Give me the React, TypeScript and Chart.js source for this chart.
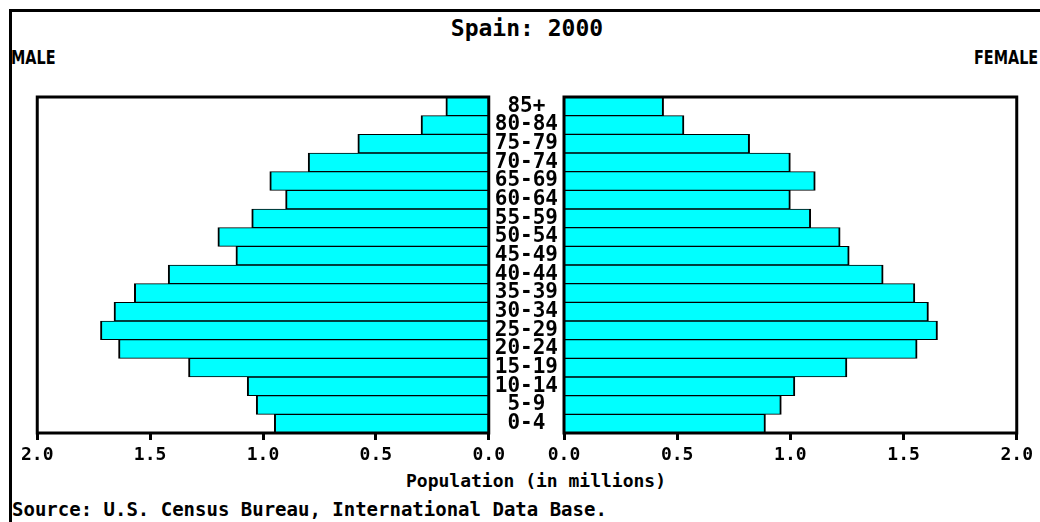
import React, { useEffect, useRef } from "react";
import { Chart, registerables } from "chart.js";

Chart.register(...registerables);

const ageGroups = ["85+", "80-84", "75-79", "70-74", "65-69", "60-64", "55-59", "50-54", "45-49", "40-44", "35-39", "30-34", "25-29", "20-24", "15-19", "10-14", "5-9", "0-4"];
const maleValues = [0.19, 0.30, 0.58, 0.80, 0.97, 0.90, 1.05, 1.20, 1.12, 1.42, 1.57, 1.66, 1.72, 1.64, 1.33, 1.07, 1.03, 0.95];
const femaleValues = [0.44, 0.53, 0.82, 1.00, 1.11, 1.00, 1.09, 1.22, 1.26, 1.41, 1.55, 1.61, 1.65, 1.56, 1.25, 1.02, 0.96, 0.89];
const xTickValues = [0, 0.5, 1, 1.5, 2];
const xTickLabels = ["0.0", "0.5", "1.0", "1.5", "2.0"];

const MONO = '"DejaVu Sans Mono", "Liberation Mono", monospace';

const boxPlugin = {
  id: "panelBox",
  afterDatasetsDraw(chart: any) {
    const { ctx, chartArea } = chart;
    const { left, top, right, bottom } = chartArea;
    ctx.save();
    ctx.strokeStyle = "#000";
    ctx.lineWidth = 3;
    ctx.strokeRect(left, top, right - left, bottom - top);
    ctx.restore();
  },
};

function xScale(reverse: boolean) {
  return {
    type: "linear",
    reverse,
    min: 0,
    max: 2,
    afterFit(scale: any) {
      scale.height = 34;
    },
    ticks: {
      stepSize: 0.5,
      color: "#000",
      padding: 5,
      maxRotation: 0,
      autoSkip: false,
      font: { family: MONO, size: 18, weight: "bold" },
      callback: (v: any) => {
        const i = xTickValues.findIndex((t) => Math.abs(t - Number(v)) < 1e-6);
        return i >= 0 ? xTickLabels[i] : "";
      },
    },
    grid: {
      display: true,
      drawOnChartArea: false,
      drawTicks: true,
      tickLength: 7,
      tickWidth: 3,
      tickColor: "#000",
    },
    border: { display: false },
  };
}

function datasetFor(values: number[]) {
  return {
    data: values,
    backgroundColor: "#00FFFF",
    borderColor: "#000",
    borderWidth: { top: 1, bottom: 1, left: 2, right: 2 },
    barPercentage: 1,
    categoryPercentage: 1,
  };
}

export default function App() {
  const leftRef = useRef<HTMLCanvasElement>(null);
  const rightRef = useRef<HTMLCanvasElement>(null);

  useEffect(() => {
    document.body.style.margin = "0";
    document.body.style.background = "#fff";
    const left = new Chart(leftRef.current!, {
      type: "bar",
      data: { labels: ageGroups, datasets: [datasetFor(maleValues) as any] },
      options: {
        indexAxis: "y",
        animation: false,
        responsive: true,
        maintainAspectRatio: false,
        layout: { padding: { left: 20, right: 20, top: 10, bottom: 0 } },
        plugins: { legend: { display: false }, tooltip: { enabled: false } },
        scales: {
          x: xScale(true) as any,
          y: { type: "category", display: false },
        },
      },
      plugins: [boxPlugin],
    });
    const right = new Chart(rightRef.current!, {
      type: "bar",
      data: { labels: ageGroups, datasets: [datasetFor(femaleValues) as any] },
      options: {
        indexAxis: "y",
        animation: false,
        responsive: true,
        maintainAspectRatio: false,
        layout: { padding: { left: 0, right: 20, top: 10, bottom: 0 } },
        plugins: { legend: { display: false }, tooltip: { enabled: false } },
        scales: {
          x: xScale(false) as any,
          y: {
            type: "category",
            position: "left",
            afterFit(scale: any) {
              scale.width = 74;
              scale.paddingTop = 0;
              scale.paddingBottom = 0;
            },
            ticks: {
              crossAlign: "center",
              padding: 6,
              color: "#000",
              autoSkip: false,
              font: { family: MONO, size: 21, weight: "bold" },
            },
            grid: { display: false, drawTicks: false },
            border: { display: false },
          } as any,
        },
      },
      plugins: [boxPlugin],
    });
    return () => {
      left.destroy();
      right.destroy();
    };
  }, []);

  const text = (style: React.CSSProperties, content: string) => (
    <div style={{ position: "absolute", whiteSpace: "nowrap", color: "#000", lineHeight: 1, ...style }}>{content}</div>
  );

  return (
    <div style={{ position: "relative", width: 1040, height: 522, overflow: "hidden", background: "#fff" }}>
      <div style={{ position: "absolute", left: 9, top: 9, width: 1040, height: 520, borderTop: "3px solid #000", borderLeft: "3px solid #000" }} />
      {text({ left: 0, width: 1054, top: 17, textAlign: "center", fontFamily: MONO, fontWeight: "bold", fontSize: 23 }, "Spain: 2000")}
      {text({ left: 11, top: 47, fontFamily: '"DejaVu Sans Condensed", "DejaVu Sans", sans-serif', fontWeight: "bold", fontSize: 20, transform: "scaleX(0.8)", transformOrigin: "left top" }, "MALE")}
      {text({ right: 2, top: 47, fontFamily: '"DejaVu Sans Condensed", "DejaVu Sans", sans-serif', fontWeight: "bold", fontSize: 20, transform: "scaleX(0.8)", transformOrigin: "right top" }, "FEMALE")}
      <div style={{ position: "absolute", left: 16, top: 87, width: 494, height: 380 }}>
        <canvas ref={leftRef} />
      </div>
      <div style={{ position: "absolute", left: 490, top: 87, width: 548, height: 380 }}>
        <canvas ref={rightRef} />
      </div>
      {text({ left: 0, width: 1072, top: 472, textAlign: "center", fontFamily: MONO, fontWeight: "bold", fontSize: 18 }, "Population (in millions)")}
      {text({ left: 12, top: 500, fontFamily: MONO, fontWeight: "bold", fontSize: 19 }, "Source: U.S. Census Bureau, International Data Base.")}
    </div>
  );
}
